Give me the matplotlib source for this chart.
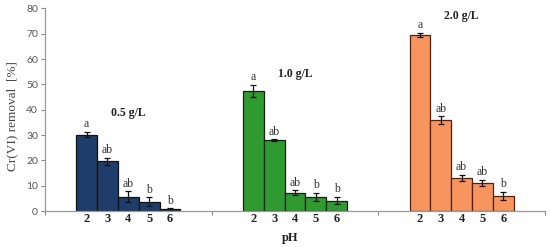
import matplotlib
matplotlib.use("Agg")
import matplotlib.pyplot as plt
import numpy as np

groups = ["0.5 g/L", "1.0 g/L", "2.0 g/L"]
ph_labels = ["2", "3", "4", "5", "6"]
removal_05 = [30.2, 19.6, 5.6, 3.6, 0.8]
err_05 = [1.0, 1.4, 2.2, 1.8, 0.2]
removal_10 = [47.4, 27.9, 7.3, 5.7, 4.1]
err_10 = [2.5, 0.4, 0.9, 1.6, 1.5]
removal_20 = [69.6, 35.9, 13.0, 11.0, 5.9]
err_20 = [0.8, 1.5, 1.3, 1.3, 1.6]
letters_05 = ["a", "ab", "ab", "b", "b"]
letters_10 = ["a", "ab", "ab", "b", "b"]
letters_20 = ["a", "ab", "ab", "ab", "b"]
y_ticks = [0, 10, 20, 30, 40, 50, 60, 70, 80]

colors = ["#1F3D6B", "#2F9A2F", "#F8955E"]
edges = ["#111111", "#112211", "#4A2410"]

values = [removal_05, removal_10, removal_20]
errs = [err_05, err_10, err_20]
letters = [letters_05, letters_10, letters_20]

fig = plt.figure(figsize=(5.5, 2.47), dpi=100)
ax = fig.add_axes([0.0818, 0.1457, 0.909, 0.8205])

serif = ["Liberation Serif", "DejaVu Serif"]
bw = 0.125
for g in range(3):
    xs = g + 0.5 + (np.arange(5) - 2) * bw
    ax.bar(xs, values[g], width=bw, color=colors[g], edgecolor=edges[g], linewidth=0.9, zorder=2)
    ax.errorbar(xs, values[g], yerr=errs[g], fmt="none", ecolor="#111111", elinewidth=0.9,
                capsize=2.2, capthick=0.9, zorder=3)
    for i, x in enumerate(xs):
        ax.text(x, values[g][i] + errs[g][i] + 0.6, letters[g][i], ha="center", va="bottom",
                fontsize=8.5, family=serif, color="#333333")
        ax.text(x, -0.8, ph_labels[i], ha="center", va="top", fontsize=9, family=serif,
                fontweight="bold", color="#222222")

label_pos = [(0.5, 38.5), (1.5, 54), (2.5, 77)]
for g in range(3):
    ax.text(label_pos[g][0], label_pos[g][1], groups[g], ha="center", va="center", fontsize=8.5,
            family=serif, fontweight="bold", color="#222222")

ax.set_xlim(0, 3)
ax.set_ylim(0, 80)
ax.set_yticks(y_ticks)
ax.set_yticklabels([str(t) for t in y_ticks], fontsize=7.5, family=["Lato", "DejaVu Sans"], color="#555555")
ax.set_xticks([0, 1, 2, 3])
ax.set_xticklabels([])
ax.tick_params(axis="y", length=3, width=0.8, color="#888888", pad=2)
ax.tick_params(axis="x", length=3, width=0.8, color="#888888")
for s in ["top", "right"]:
    ax.spines[s].set_visible(False)
for s in ["left", "bottom"]:
    ax.spines[s].set_color("#999999")
    ax.spines[s].set_linewidth(0.9)

fig.text(12 / 550, 1 - 116 / 247, "Cr(VI) removal  [%]", rotation=90, ha="center", va="center",
         fontsize=9.5, family=serif, color="#444444")
fig.text(290 / 550, 1 - 238 / 247, "pH", ha="center", va="center", fontsize=9, family=serif,
         fontweight="bold", color="#222222")

fig.savefig("out.png", dpi=100)
